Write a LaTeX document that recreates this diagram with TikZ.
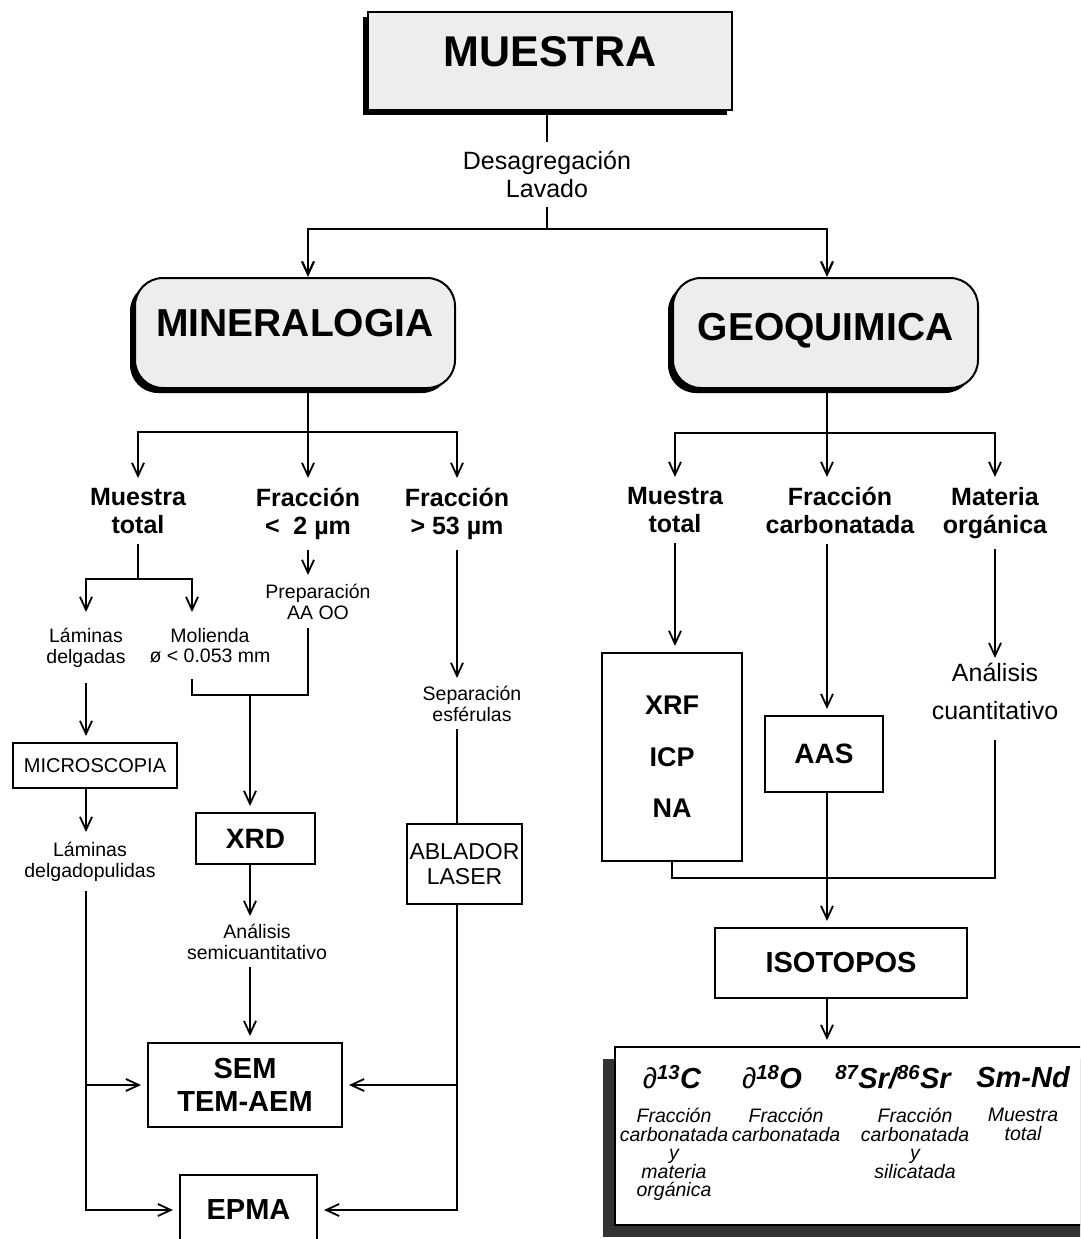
\documentclass[tikz,border=0pt]{standalone}
\usepackage{fontspec}
\setmainfont{Liberation Sans}
\usetikzlibrary{arrows.meta,shadows}

\begin{document}
\begin{tikzpicture}[
  x=1pt, y=-1pt,
  link/.style={line width=1.8pt},
  arr/.style={link, -{Straight Barb[length=13pt,width=12pt]}},
  arrb/.style={arr, shorten >=6pt},
  box/.style={draw, line width=2pt, fill=white, inner sep=0pt, align=center},
  raised/.style={fill=black!7, drop shadow={shadow xshift=-5pt, shadow yshift=-5pt, fill=black, opacity=1}},
  title/.style={box, raised, rounded corners=28pt, minimum height=110pt, font=\fontsize{39}{44}\selectfont\bfseries},
  head/.style={font=\fontsize{25}{28}\selectfont\bfseries, align=center, anchor=north, inner xsep=2pt, inner ysep=10pt},
  note/.style={font=\fontsize{19.5}{20.5}\selectfont, align=center, anchor=north, inner xsep=2pt},
  tech/.style={box, font=\fontsize{28}{33}\selectfont\bfseries},
  plainbox/.style={box, font=\fontsize{20}{25}\selectfont},
  isotxt/.style={font=\fontsize{19.5}{18.5}\selectfont\itshape, align=center, anchor=north, inner sep=0pt},
  isosym/.style={font=\fontsize{29}{31}\selectfont\bfseries\itshape, inner sep=0pt}
]
\useasboundingbox (0,0) rectangle (1080,1239);
\clip (0,0) rectangle (1080,1239);

\node[box, raised, minimum width=364pt, minimum height=98pt, text depth=19pt, font=\fontsize{43}{46}\selectfont\bfseries] (muestra) at (550,61) {MUESTRA};
\node[note, font=\fontsize{25}{28}\selectfont, inner ysep=9pt] (desag) at (547,142) {Desagregación\\Lavado};
\coordinate (tj) at (547,229);
\node[title, minimum width=320pt, text depth=20pt] (min) at (295,333) {MINERALOGIA};
\node[title, minimum width=305pt, text depth=12pt] (geo) at (825.5,333) {GEOQUIMICA};
\coordinate (mj) at (308,432);
\coordinate (gj) at (827,433);

\draw[link, line width=2.6pt] (desag |- muestra.south) -- (desag);
\draw[link, line width=2.6pt] (desag) -- (tj);
\draw[arr, line width=2.2pt] (tj) -| (mj |- min.north);
\draw[arr, line width=2.2pt] (tj) -| (gj |- geo.north);

\node[head] (mtot) at (138,478) {Muestra\\total};
\node[head] (fr2) at (308,478) {Fracción\\<\ \ 2 µm};
\node[head] (fr53) at (457,478) {Fracción\\> 53 µm};
\draw[link] (mj |- min.south) -- (mj);
\draw[arr] (mj) -| (mtot);
\draw[arr] (mj) -- (fr2);
\draw[arr] (mj) -| (fr53);

\coordinate (lj) at (138,579);
\coordinate (mc) at (192,695);
\coordinate (xc) at (250,695);
\node[note, inner ysep=16pt] (lam) at (86,612) {Láminas\\delgadas};
\node[note, inner ysep=16pt] (mol) at (210,612) {Molienda\\ø < 0.053 mm};
\node[plainbox, minimum width=164pt, minimum height=45pt] (micro) at (95,765.5) {MICROSCOPIA};
\node[note, inner ysep=10pt] (lamp) at (90,832) {Láminas\\delgadopulidas};
\node[note, inner ysep=9pt] (prep) at (318,575) {Preparación\\AA OO};
\node[tech, minimum width=119pt, minimum height=51pt] (xrd) at (255.5,838.5) {XRD};
\node[note, inner ysep=8pt] (ana) at (257,916) {Análisis\\semicuantitativo};
\node[tech, font=\fontsize{29}{33}\selectfont\bfseries, minimum width=194pt, minimum height=84pt] (sem) at (245,1085) {SEM\\TEM-AEM};
\node[tech, font=\fontsize{29}{33}\selectfont\bfseries, minimum width=137pt, minimum height=70pt] (epma) at (248.5,1210) {EPMA};
\node[note, inner ysep=8pt] (sep) at (472,678) {Separación\\esférulas};
\node[box, font=\fontsize{23}{25}\selectfont, minimum width=115pt, minimum height=80pt] (abl) at (464.5,864) {ABLADOR\\LASER};

\draw[link] (mtot) -- (lj);
\draw[arr] (lj) -| (lam);
\draw[arr] (lj) -| (mc |- mol.north);
\draw[arrb] (lam) -- (lam |- micro.north);
\draw[arr] (lam |- micro.south) -- (lam |- lamp.north);
\draw[arrb] (lam |- lamp.south) |- (epma);
\draw[arrb] (lam |- sem) -- (sem);

\draw[arr] (fr2) -- (fr2 |- prep.north);
\draw[link] (mc |- mol.south) -- (mc) -- (fr2 |- mc) -- (fr2 |- prep.south);
\draw[arrb] (xc) -- (xc |- xrd.north);
\draw[arr] (xc |- xrd.south) -- (xc |- ana.north);
\draw[arrb] (xc |- ana.south) -- (xc |- sem.north);

\draw[arr] (fr53) -- (fr53 |- sep.north);
\draw[link] (fr53 |- sep.south) -- (fr53 |- abl.north);
\draw[arrb] (fr53 |- abl.south) |- (epma);
\draw[arrb] (fr53 |- sem) -- (sem);

\node[head] (gmtot) at (675,477) {Muestra\\total};
\node[head] (gfc) at (840,477) {Fracción\\carbonatada};
\node[head] (gmo) at (995,477) {Materia\\orgánica};
\node[tech, font=\fontsize{27}{51.5}\selectfont\bfseries, minimum width=140pt, minimum height=208pt] (xrf) at (672,757) {XRF\\ICP\\NA};
\node[tech, minimum width=118pt, minimum height=76pt] (aas) at (824,754) {AAS};
\node[note, font=\fontsize{25}{38}\selectfont, inner ysep=5pt] (anc) at (995,658) {Análisis\\cuantitativo};
\node[tech, font=\fontsize{29}{33}\selectfont\bfseries, minimum width=252pt, minimum height=70pt] (isot) at (841,963) {ISOTOPOS};
\coordinate (rj) at (827,878);

\draw[link] (gj |- geo.south) -- (gj);
\draw[arr] (gj) -| (gmtot);
\draw[arr] (gj) -- (gj |- gfc.north);
\draw[arr] (gj) -| (gmo);
\draw[arrb] (gmtot) -- (gmtot |- xrf.north);
\draw[arrb] (gj |- gfc.south) -- (gj |- aas.north);
\draw[arr] (gmo) -- (gmo |- anc.north);
\draw[link, shorten <=15pt] (gmo |- anc.south) |- (rj) -| (xrf.south);
\draw[arrb] (gj |- aas.south) -- (gj |- isot.north);

\node[box, minimum width=480pt, minimum height=178pt, drop shadow={shadow xshift=-12pt, shadow yshift=-12pt, fill=black!80, opacity=1}] (iso) at (855,1136) {};
\draw[arrb] (gj |- isot.south) -- (gj |- iso.north);

\node[isosym] (d13) at (672,1077) {{\mdseries\upshape ∂}\textsuperscript{13}C};
\node[isosym] (d18) at (772,1077) {{\mdseries\upshape ∂}\textsuperscript{18}O};
\node[isosym] (sr) at (893,1077) {\textsuperscript{87}Sr/\textsuperscript{86}Sr};
\node[isosym] (smnd) at (1023,1077) {Sm-Nd};
\node[isotxt] (c1) at (674,1108) {Fracción\\carbonatada\\y\\materia\\orgánica};
\node[isotxt] (c2) at (786,1108) {Fracción\\carbonatada};
\node[isotxt] (c3) at (915,1108) {Fracción\\carbonatada\\y\\silicatada};
\node[isotxt] (c4) at (1023,1108) {Muestra\\total};
\end{tikzpicture}
\end{document}
